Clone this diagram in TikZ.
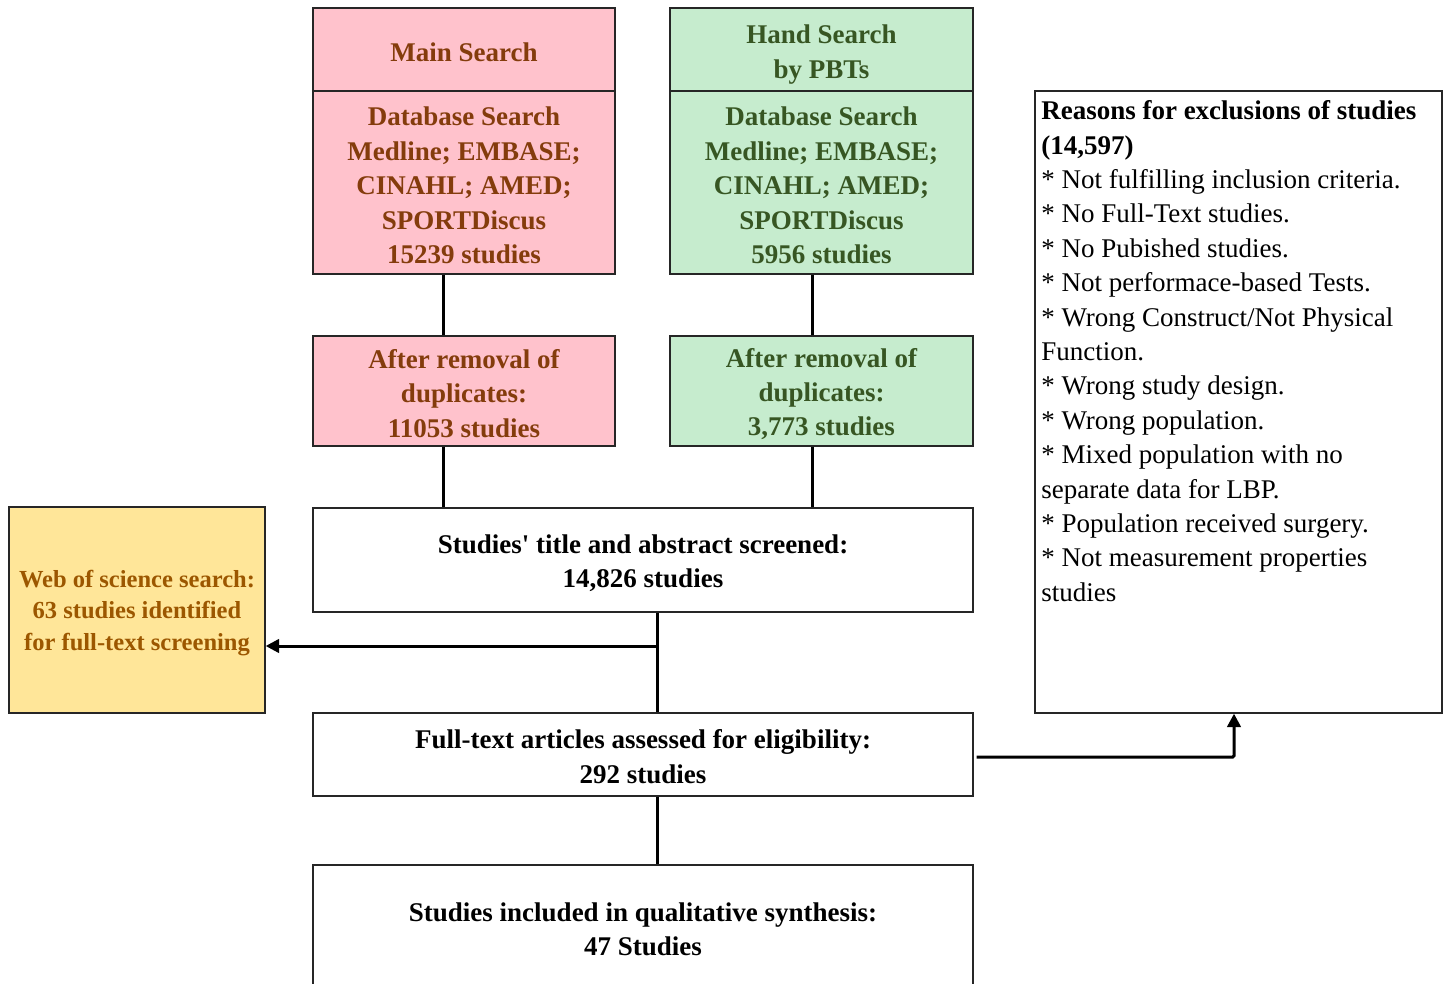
\documentclass[tikz,border=0pt]{standalone}
\usepackage{fontspec}
\setmainfont{Liberation Serif}
\newfontfamily\plainserif[Ligatures=TeXOff]{Liberation Serif}
\usetikzlibrary{arrows.meta}
\definecolor{pinkfill}{HTML}{FFC2CC}
\definecolor{pinktext}{HTML}{843C0C}
\definecolor{greenfill}{HTML}{C6ECCE}
\definecolor{greentext}{HTML}{375623}
\definecolor{yellowfill}{HTML}{FFE699}
\definecolor{yellowtext}{HTML}{9C5700}
\tikzset{
  box/.style={draw=black!85, line width=1pt, inner sep=0pt},
  pinkbox/.style={box, fill=pinkfill},
  greenbox/.style={box, fill=greenfill},
  yellowbox/.style={box, fill=yellowfill},
  whitebox/.style={box, fill=white},
  txt/.style={inner sep=0pt, align=center, font=\bfseries\fontsize{20.25pt}{25.8pt}\selectfont},
  pinktxt/.style={txt, text=pinktext},
  greentxt/.style={txt, text=greentext},
  yellowtxt/.style={txt, text=yellowtext, font=\bfseries\fontsize{18.4pt}{23.6pt}\selectfont},
  blacktxt/.style={txt, text=black},
  conn/.style={line width=2.25pt},
  arr/.style={line width=2.25pt, -{Triangle[length=10pt,width=10pt]}},
}
\begin{document}
\begin{tikzpicture}[x=0.75pt,y=-0.75pt]
\useasboundingbox (0,0) rectangle (1450,984);
% top boxes
\node[pinkbox, minimum width=302*0.75pt, minimum height=83*0.75pt] (mshead) at (464,49.5) {};
\node[pinktxt] (msheadt) at ([yshift=-1.8pt]mshead.center) {Main Search};
\node[pinkbox, minimum width=302*0.75pt, minimum height=183*0.75pt] (msbody) at (464,182.5) {};
\node[pinktxt] (msbodyt) at ([yshift=-2.25pt]msbody.center)
  {Database Search\\Medline; EMBASE;\\CINAHL; AMED;\\SPORTDiscus\\15239 studies};
\node[greenbox, minimum width=303*0.75pt, minimum height=83*0.75pt] (hshead) at (821.5,49.5) {};
\node[greentxt] (hsheadt) at ([yshift=-3.75pt]hshead.center) {Hand Search\\by PBTs};
\node[greenbox, minimum width=303*0.75pt, minimum height=183*0.75pt] (hsbody) at (821.5,182.5) {};
\node[greentxt] (hsbodyt) at ([yshift=-2.25pt]hsbody.center)
  {Database Search\\Medline; EMBASE;\\CINAHL; AMED;\\SPORTDiscus\\5956 studies};
% after removal
\node[pinkbox, minimum width=302*0.75pt, minimum height=110*0.75pt] (msdup) at (464,391) {};
\node[pinktxt] (msdupt) at ([yshift=-1.8pt]msdup.center) {After removal of\\duplicates:\\11053 studies};
\node[greenbox, minimum width=303*0.75pt, minimum height=110*0.75pt] (hsdup) at (821.5,391) {};
\node[greentxt] (hsdupt) at ([yshift=-2.25pt]hsdup.center) {After removal of\\duplicates:\\3,773 studies};
% screened
\node[whitebox, minimum width=660*0.75pt, minimum height=104*0.75pt] (screen) at (643,560) {};
\node[blacktxt] (screent) at ([yshift=-2.25pt]screen.center)
  {Studies{\plainserif\bfseries'} title and abstract screened:\\14,826 studies};
% web of science
\node[yellowbox, minimum width=256*0.75pt, minimum height=206*0.75pt] (wos) at (137,610) {};
\node[yellowtxt] (wost) at ([yshift=-2.25pt]wos.center)
  {Web of science search:\\63 studies identified\\for full-text screening};
% full-text
\node[whitebox, minimum width=660*0.75pt, minimum height=83*0.75pt] (full) at (643,754.5) {};
\node[blacktxt] (fullt) at ([yshift=-1.5pt]full.center)
  {Full-text articles assessed for eligibility:\\292 studies};
% final
\node[whitebox, minimum width=660*0.75pt, minimum height=130*0.75pt] (final) at (643,930) {};
\node[blacktxt] (finalt) at ([yshift=0.75pt]final.center)
  {Studies included in qualitative synthesis:\\47 Studies};
% exclusions
\node[box, fill=white, minimum width=407*0.75pt, minimum height=622*0.75pt] (excl) at (1238.5,402) {};
\node[anchor=north west, inner sep=0pt, align=left, font=\fontsize{20.25pt}{25.8pt}\selectfont] (excltext) at (1041,100.5)
  {\textbf{Reasons for exclusions of studies}\\
   \textbf{(14,597)}\\
   * Not fulfilling inclusion criteria.\\
   * No Full-Text studies.\\
   * No Pubished studies.\\
   * Not performace-based Tests.\\
   * Wrong Construct/Not Physical\\
   Function.\\
   * Wrong study design.\\
   * Wrong population.\\
   * Mixed population with no\\
   separate data for LBP.\\
   * Population received surgery.\\
   * Not measurement properties\\
   studies};
% connectors
\coordinate (lx) at (443,0);
\coordinate (rx) at (812,0);
\coordinate (cx) at (657,0);
\coordinate (ay) at (0,646);
\coordinate (by) at (0,757);
\coordinate (ex) at (1234,0);
\draw[conn] (msbody.south -| lx) -- (msdup.north -| lx);
\draw[conn] (msdup.south -| lx) -- (screen.north -| lx);
\draw[conn] (hsbody.south -| rx) -- (hsdup.north -| rx);
\draw[conn] (hsdup.south -| rx) -- (screen.north -| rx);
\draw[conn] (screen.south -| cx) -- (full.north -| cx);
\draw[arr] (cx |- ay) -- (wos.east |- ay);
\draw[conn] (full.south -| cx) -- (final.north -| cx);
\draw[arr, rounded corners=1pt] ([xshift=2.25pt]full.east |- by) -- (ex |- by) -- (excl.south -| ex);
\end{tikzpicture}
\end{document}
